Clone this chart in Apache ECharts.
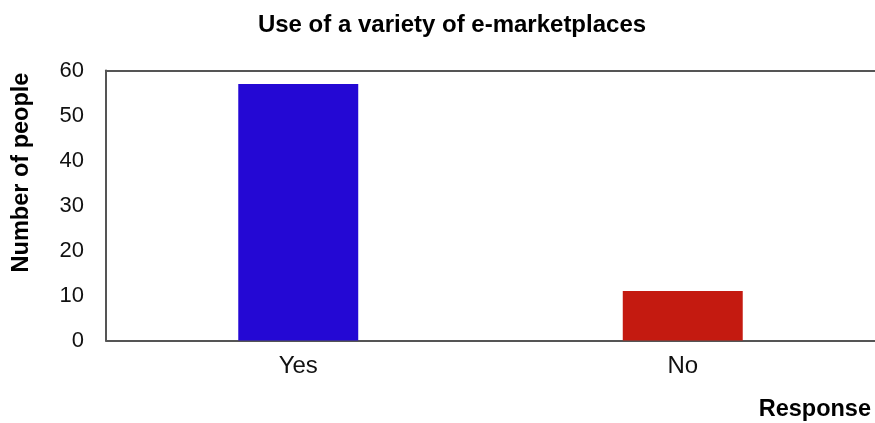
<!DOCTYPE html>
<html>
<head>
<meta charset="utf-8">
<script src="https://cdn.jsdelivr.net/npm/echarts@6/dist/echarts.min.js"></script>
<style>
  html, body { margin: 0; padding: 0; background: #ffffff; }
  #chart { width: 875px; height: 423px; }
</style>
</head>
<body>
<div id="chart"></div>
<script>
// Survey responses: use of a variety of e-marketplaces
const categories = ['Yes', 'No'];
const counts = [57, 11];
const barColors = ['#2408D4', '#C41A10'];
const yTicks = [0, 10, 20, 30, 40, 50, 60];

const chart = echarts.init(document.getElementById('chart'));
const FONT = '"Liberation Sans", Arial, sans-serif';

chart.setOption({
  animation: false,
  backgroundColor: '#ffffff',
  graphic: [
    {
      type: 'text',
      x: 452, y: 25,
      style: {
        text: 'Use of a variety of e-marketplaces',
        font: 'bold 24px ' + FONT,
        fill: '#000',
        align: 'center',
        verticalAlign: 'middle'
      }
    },
    {
      type: 'text',
      x: 21.5, y: 172.5,
      rotation: Math.PI / 2,
      style: {
        text: 'Number of people',
        font: 'bold 23.5px ' + FONT,
        fill: '#000',
        align: 'center',
        verticalAlign: 'middle'
      }
    },
    {
      type: 'text',
      x: 871, y: 410,
      style: {
        text: 'Response',
        font: 'bold 23.5px ' + FONT,
        fill: '#000',
        align: 'right',
        verticalAlign: 'middle'
      }
    }
  ],
  grid: { left: 106, right: 0, top: 70.5, bottom: 82.5, containLabel: false },
  xAxis: [
    {
      type: 'category',
      data: categories,
      position: 'bottom',
      axisLine: { lineStyle: { color: '#555', width: 2 } },
      axisTick: { show: false },
      axisLabel: { fontFamily: FONT, fontSize: 24, color: '#111', margin: 14 }
    },
    {
      type: 'category',
      data: categories,
      position: 'top',
      axisLine: { lineStyle: { color: '#555', width: 2 } },
      axisTick: { show: false },
      axisLabel: { show: false }
    }
  ],
  yAxis: {
    type: 'value',
    min: yTicks[0],
    max: yTicks[yTicks.length - 1],
    interval: 10,
    axisLine: { show: true, lineStyle: { color: '#555', width: 2 } },
    axisTick: { show: false },
    splitLine: { show: false },
    axisLabel: {
      fontFamily: FONT, fontSize: 22, color: '#111', margin: 22,
      padding: [0, 0, 4, 0]
    }
  },
  series: [{
    type: 'bar',
    data: counts.map((v, i) => ({ value: v, itemStyle: { color: barColors[i] } })),
    barWidth: '31.2%'
  }]
});
</script>
</body>
</html>
